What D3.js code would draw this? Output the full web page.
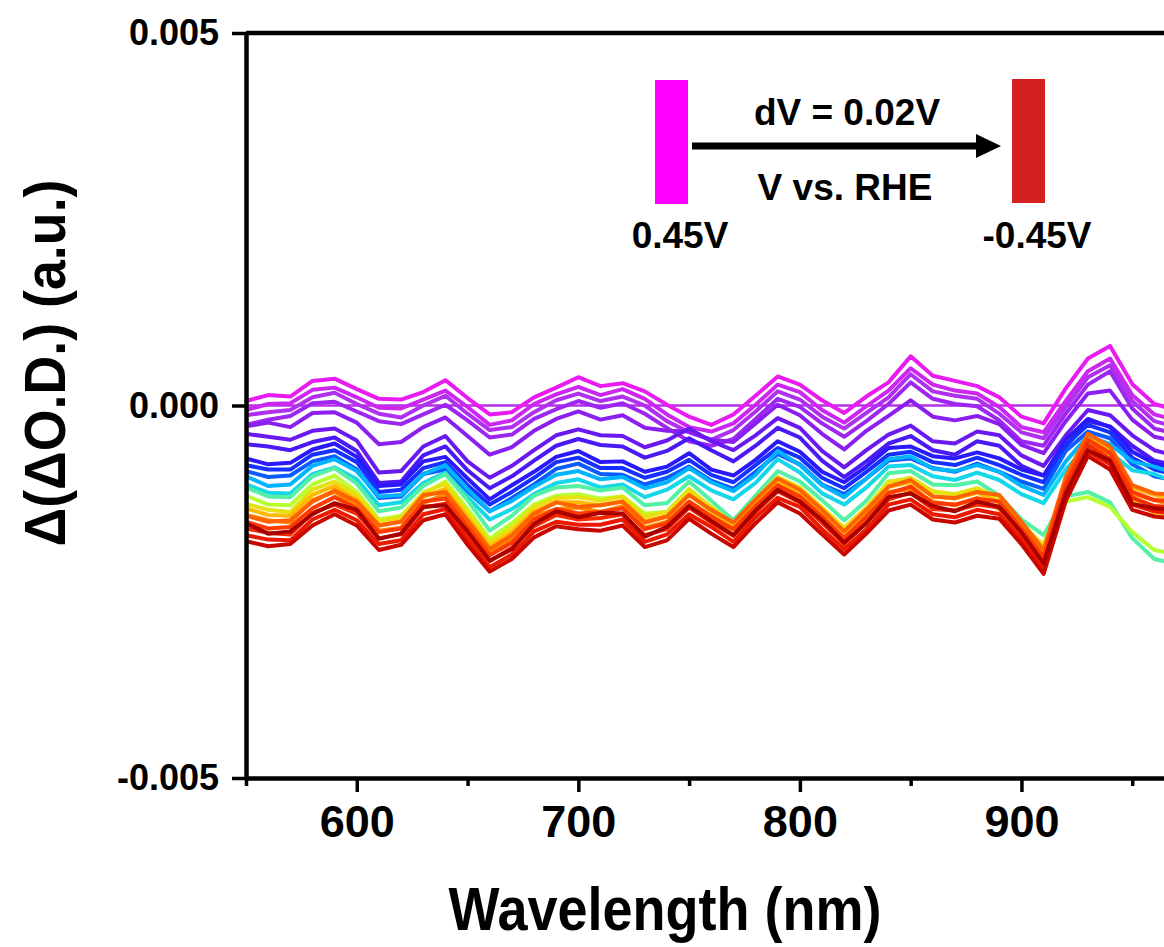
<!DOCTYPE html>
<html lang="en">
<head>
	<meta charset="UTF-8">
	<title>Potential-dependent spectra</title>
	<style>
		body{margin:0;background:#fff;}
		svg{display:block;font-family:"Liberation Sans",Arial,sans-serif;font-weight:bold;}
		.axis path,.axis line{stroke:#000;}
		.axis text{fill:#000;font-weight:bold;}
		.spec{fill:none;stroke-linejoin:round;}
	</style>
</head>
<body>
<svg id="chart" width="1164" height="947"></svg>
<script src="https://d3js.org/d3.v7.min.js"></script>
<script>
	// wavelength grid (nm)
	var wavelengths = [550,560,570,580,590,600,610,620,630,640,650,660,670,680,690,700,710,720,730,740,750,760,770,780,790,800,810,820,830,840,850,860,870,880,890,900,910,920,930,940,950,960,970];

	// applied potentials (V vs. RHE), one spectrum each
	var potentials = [0.45,0.41,0.37,0.33,0.29,0.25,0.21,0.17,0.13,0.09,0.05,0.01,-0.03,-0.07,-0.11,-0.15,-0.19,-0.23,-0.27,-0.31,-0.35,-0.39,-0.43,-0.45];

	// spectra in units of 1e-4 (a.u.)
	var s_p045 = [0,0,0,0,0,0,0,0,0,0,0,0,0,0,0,0,0,0,0,0,0,0,0,0,0,0,0,0,0,0,0,0,0,0,0,0,0,0,0,0,0,0,0];
	var s_p041 = [0.6,1.4,1.2,3.3,3.6,2.2,0.9,0.8,1.8,3.4,1.0,-1.2,-0.9,1.1,2.4,3.8,2.6,3.0,1.9,0.1,-1.5,-2.6,-1.2,1.3,3.9,2.8,0.7,-1.0,1.2,3.1,6.6,4.0,3.3,2.6,1.1,-1.5,-2.4,2.3,6.3,8.0,2.9,0.2,-0.6];
	var s_p037 = [-0.6,0.2,0.3,2.1,2.4,1.1,-0.3,-0.4,0.8,2.0,-0.2,-2.6,-2.0,0.2,1.5,2.5,1.4,2.2,0.9,-1.2,-2.9,-3.5,-2.4,0.1,2.8,1.8,-0.6,-2.3,-0.1,2.0,5.0,2.8,2.0,1.6,-0.2,-2.9,-3.6,0.6,4.6,6.3,1.4,-1.2,-2.0];
	var s_p033 = [-1.3,-0.9,-0.6,1.1,1.7,0.2,-1.1,-1.6,0.0,1.3,-1.1,-3.3,-2.9,-0.9,0.7,1.6,0.6,1.2,0.0,-2.1,-3.6,-4.6,-3.3,-0.8,1.9,0.8,-1.5,-3.1,-1.0,1.1,4.2,1.9,1.3,0.9,-1.1,-3.6,-4.4,-0.2,3.8,5.4,0.6,-2.1,-2.9];
	var s_p029 = [-2.6,-1.9,-1.4,0.3,0.5,-0.8,-2.1,-2.5,-1.2,0.1,-2.0,-4.3,-3.9,-1.8,-0.5,0.6,-0.3,0.3,-1.1,-3.0,-4.8,-5.4,-4.5,-1.8,0.9,-0.2,-2.4,-4.2,-2.1,0.2,3.1,0.9,0.2,-0.1,-2.0,-4.8,-5.4,-1.1,2.8,4.6,-0.4,-3.1,-3.8];
	var s_p025 = [-2.8,-2.3,-2.9,-1.0,-0.9,-2.3,-5.2,-4.9,-2.9,-1.6,-4.1,-6.6,-5.6,-3.4,-1.8,-0.8,-1.9,-1.3,-3.0,-3.4,-3.5,-4.6,-4.9,-2.4,0.1,-1.3,-3.8,-5.9,-3.4,-1.4,0.7,-1.5,-2.0,-1.4,-2.5,-5.3,-6.4,-2.1,1.6,2.0,-1.9,-4.2,-4.8];
	var s_p021 = [-3.8,-4.2,-4.6,-3.4,-3.1,-4.7,-9.0,-8.8,-5.5,-4.1,-7.5,-9.7,-8.1,-6.0,-4.0,-3.2,-4.0,-4.1,-5.6,-4.7,-3.1,-4.8,-6.0,-4.0,-1.7,-3.0,-6.1,-8.3,-6.0,-3.9,-2.7,-4.8,-5.1,-3.5,-4.0,-6.7,-8.1,-4.0,-0.6,-1.3,-4.0,-6.0,-6.8];
	var s_p017 = [-5.2,-5.5,-6.0,-4.9,-4.3,-6.1,-10.4,-10.2,-6.7,-5.5,-8.7,-11.1,-9.5,-7.4,-5.4,-4.5,-5.3,-5.5,-7.0,-6.1,-4.4,-6.0,-7.5,-5.4,-3.0,-4.3,-7.4,-9.6,-7.5,-5.1,-4.1,-6.0,-6.6,-4.8,-5.4,-8.1,-9.4,-5.5,-2.1,-2.8,-5.4,-7.4,-8.1];
	var s_p013 = [-7.1,-7.9,-7.7,-5.9,-5.1,-6.9,-10.8,-10.6,-7.5,-6.9,-9.8,-12.6,-10.7,-8.9,-6.9,-6.1,-7.6,-7.5,-8.9,-8.2,-6.4,-8.6,-9.4,-7.3,-4.8,-6.2,-8.9,-10.3,-8.2,-5.7,-5.5,-6.8,-7.1,-6.3,-7.1,-8.6,-9.4,-4.6,-1.8,-2.9,-6.2,-7.8,-8.5];
	var s_p009 = [-8.0,-8.6,-8.6,-6.6,-6.0,-7.6,-11.6,-11.3,-8.4,-7.6,-10.7,-13.3,-11.6,-9.7,-7.6,-7.0,-8.4,-8.4,-9.7,-8.9,-7.3,-9.3,-10.3,-8.0,-5.7,-7.0,-9.7,-11.1,-8.9,-6.6,-6.2,-7.6,-8.0,-7.0,-8.0,-9.3,-10.3,-5.3,-2.6,-3.6,-7.0,-8.6,-9.3];
	var s_p005 = [-8.8,-9.6,-9.4,-7.5,-6.8,-8.6,-12.4,-12.2,-9.2,-8.6,-11.5,-14.2,-12.4,-10.6,-8.5,-7.8,-9.2,-9.3,-10.6,-9.7,-8.2,-10.1,-11.2,-8.9,-6.5,-7.9,-10.6,-11.9,-9.8,-7.4,-7.1,-8.4,-8.9,-7.8,-8.9,-10.2,-11.2,-6.1,-3.5,-4.4,-7.9,-9.5,-10.1];
	var s_p001 = [-9.5,-10.8,-10.6,-8.1,-7.2,-8.8,-12.2,-12.0,-9.2,-8.0,-11.2,-14.2,-12.8,-10.9,-9.3,-8.8,-9.9,-9.6,-11.1,-10.3,-8.4,-10.3,-11.5,-9.3,-6.1,-8.0,-10.7,-12.3,-9.8,-7.2,-6.8,-8.5,-8.8,-8.0,-8.9,-10.8,-12.0,-7.5,-4.1,-5.2,-7.5,-8.2,-9.2];
	var s_m003 = [-10.6,-11.7,-11.8,-9.2,-8.3,-9.9,-13.4,-13.0,-10.4,-9.0,-12.3,-15.3,-13.9,-11.9,-10.4,-9.9,-11.0,-10.6,-12.3,-11.3,-9.5,-11.4,-12.6,-10.4,-7.2,-9.0,-11.8,-13.3,-11.0,-8.2,-8.0,-9.5,-10.0,-9.0,-10.0,-11.9,-13.1,-8.6,-5.3,-6.3,-8.7,-9.2,-10.4];
	var s_m007 = [-11.0,-12.2,-12.3,-9.5,-8.4,-10.5,-14.2,-13.7,-10.8,-9.2,-12.7,-16.8,-14.8,-12.1,-11.0,-10.8,-11.4,-11.0,-13.4,-13.1,-10.2,-12.8,-15.4,-12.1,-8.8,-10.2,-12.7,-15.4,-12.8,-9.1,-8.8,-10.6,-10.7,-10.2,-12.1,-15.3,-17.4,-12.2,-11.6,-13.0,-17.8,-20.6,-21.3];
	var s_m011 = [-12.1,-13.3,-13.4,-10.6,-9.4,-11.6,-15.3,-14.8,-11.9,-10.2,-13.9,-17.9,-15.8,-13.3,-12.1,-11.9,-12.5,-12.2,-14.5,-14.3,-11.2,-13.8,-16.5,-13.3,-9.8,-11.3,-13.8,-16.6,-13.8,-10.2,-9.9,-11.6,-11.9,-11.2,-13.2,-16.5,-18.6,-12.9,-12.3,-13.6,-17.0,-19.4,-20.0];
	var s_m015 = [-13.2,-14.0,-14.3,-11.3,-10.2,-12.0,-15.5,-15.0,-11.7,-10.5,-14.4,-18.3,-16.4,-13.6,-12.4,-12.3,-12.8,-12.2,-14.9,-14.3,-11.3,-13.6,-15.9,-12.6,-9.6,-11.0,-13.7,-16.4,-13.7,-10.3,-9.7,-11.5,-11.9,-11.1,-12.4,-15.8,-18.8,-10.9,-6.1,-7.2,-12.8,-14.4,-15.0];
	var s_m019 = [-13.8,-14.7,-14.8,-12.0,-10.8,-12.6,-16.1,-15.5,-12.3,-11.2,-15.0,-18.9,-17.0,-14.2,-13.0,-13.0,-13.4,-12.8,-15.5,-14.9,-12.0,-14.2,-16.5,-13.2,-10.2,-11.6,-14.3,-17.0,-14.3,-10.9,-10.3,-12.2,-12.5,-11.7,-13.0,-16.4,-19.4,-10.0,-4.5,-5.8,-11.0,-12.0,-12.6];
	var s_m023 = [-14.7,-15.4,-15.7,-12.7,-11.6,-13.5,-16.8,-16.4,-13.1,-11.9,-15.9,-19.6,-17.9,-14.9,-13.9,-13.7,-14.3,-13.5,-16.4,-15.6,-12.9,-14.9,-17.4,-13.9,-11.1,-12.3,-15.2,-17.7,-15.2,-11.6,-11.2,-12.9,-13.4,-12.4,-13.9,-17.1,-20.3,-10.8,-5.4,-6.5,-11.9,-12.7,-13.5];
	var s_m027 = [-14.8,-15.6,-15.4,-12.9,-11.4,-12.9,-16.1,-15.6,-12.0,-11.6,-15.4,-19.3,-17.4,-14.5,-13.0,-13.6,-13.4,-12.9,-15.7,-14.9,-12.0,-14.0,-15.7,-12.6,-9.8,-11.3,-14.0,-16.9,-14.0,-10.9,-10.0,-12.2,-12.4,-11.6,-12.0,-15.6,-19.4,-9.6,-3.8,-5.5,-10.7,-11.8,-12.0];
	var s_m031 = [-15.6,-16.5,-16.3,-13.8,-12.3,-13.8,-17.0,-16.5,-12.9,-12.5,-16.3,-20.1,-18.4,-15.3,-13.9,-14.5,-14.3,-13.8,-16.6,-15.8,-12.9,-14.9,-16.6,-13.5,-10.7,-12.2,-14.9,-17.8,-14.9,-11.8,-10.9,-13.1,-13.3,-12.5,-12.9,-16.5,-20.3,-10.5,-4.6,-6.4,-11.6,-12.7,-12.9];
	var s_m035 = [-16.5,-17.1,-17.3,-14.4,-13.3,-14.5,-17.8,-17.3,-13.7,-13.2,-17.2,-20.9,-19.1,-16.2,-14.7,-15.3,-15.1,-14.6,-17.4,-16.6,-13.7,-15.7,-17.5,-14.3,-11.5,-13.0,-15.7,-18.6,-15.7,-12.6,-11.7,-13.9,-14.1,-13.3,-13.7,-17.3,-21.1,-11.3,-5.3,-7.2,-12.4,-13.5,-13.7];
	var s_m039 = [-17.4,-18.0,-18.1,-15.3,-14.0,-15.4,-18.6,-18.1,-14.6,-13.9,-18.0,-21.7,-20.0,-16.9,-15.6,-16.0,-16.0,-15.3,-18.3,-17.3,-14.6,-16.3,-18.3,-15.0,-12.4,-13.6,-16.6,-19.3,-16.6,-13.3,-12.6,-14.6,-15.0,-14.0,-14.6,-18.0,-21.9,-12.0,-6.2,-7.9,-13.3,-14.2,-14.6];
	var s_m043 = [-18.2,-18.9,-18.6,-16.1,-14.6,-16.1,-19.4,-18.7,-15.4,-14.6,-18.7,-22.3,-20.6,-17.7,-16.2,-16.6,-16.8,-16.1,-19.0,-18.1,-15.2,-17.2,-19.0,-15.8,-13.0,-14.5,-17.3,-20.0,-17.2,-14.1,-13.3,-15.3,-15.7,-14.8,-15.2,-18.6,-22.6,-12.8,-6.8,-8.6,-14.0,-14.9,-15.2];
	var s_m045 = [-15.8,-17.2,-16.9,-14.6,-13.1,-14.0,-17.9,-17.2,-13.6,-13.4,-16.9,-20.8,-19.3,-15.9,-14.2,-15.0,-14.4,-14.5,-17.6,-16.3,-13.5,-15.5,-17.4,-14.1,-11.3,-12.9,-15.4,-18.4,-15.8,-12.3,-11.8,-13.5,-14.2,-12.9,-13.6,-17.0,-21.2,-11.8,-6.0,-7.4,-13.2,-13.8,-14.0];

	var spectra = [s_p045,s_p041,s_p037,s_p033,s_p029,s_p025,s_p021,s_p017,s_p013,s_p009,s_p005,s_p001,
		s_m003,s_m007,s_m011,s_m015,s_m019,s_m023,s_m027,s_m031,s_m035,s_m039,s_m043,s_m045];

	var xMajor = [600,700,800,900];
	var xMinor = [550,650,750,850,950];
	var yTicks = [-0.005,0,0.005];

	var svg = d3.select('#chart');

	var x = d3.scaleLinear().domain([550,1000]).range([246,1243]);
	var y = d3.scaleLinear().domain([-0.005,0.005]).range([778,33]);

	// rainbow colour map, 0.45 V magenta -> -0.45 V dark red
	var color = d3.scaleLinear()
		.domain([0.45,0.41,0.33,0.25,0.19,0.11,0.05,0.01,-0.05,-0.11,-0.17,-0.23,-0.31,-0.41,-0.45])
		.range(['#b530e6','#e81cf0','#b030f0','#8a1ff0','#5a18f0','#1a1aff','#0a5cff','#00b4ff','#20e8e0','#b8ff30','#ffd200','#ff8a00','#ff3a00','#e81000','#a80000'])
		.interpolate(d3.interpolateRgb);

	svg.append('clipPath').attr('id','plotclip')
		.append('rect').attr('x',246).attr('y',33).attr('width',1000).attr('height',745);

	var line = d3.line()
		.x(function(d,i){ return x(wavelengths[i]); })
		.y(function(d){ return y(d*1e-4); });

	svg.append('g').attr('clip-path','url(#plotclip)')
		.selectAll('path')
		.data(spectra)
		.enter()
			.append('path')
			.attr('class','spec')
			.attr('d',line)
			.attr('stroke',function(d,i){ return color(potentials[i]); })
			.attr('stroke-width',function(d,i){ return i===0 ? 2.5 : 4; });

	// plain hyphen minus like the original figure
	var yFmt = function(d){ return d3.format('.3f')(d).replace('\u2212','-'); };

	// axes
	var xAxis = svg.append('g').attr('class','axis')
		.attr('transform','translate(0,778)')
		.call(d3.axisBottom(x).tickValues(xMajor).tickFormat(d3.format('d')).tickSize(14).tickSizeOuter(0).tickPadding(13));
	xAxis.selectAll('text').style('font-size','45px');
	xAxis.selectAll('line').attr('stroke-width',3.5);
	xAxis.select('.domain').attr('stroke-width',4.5);

	var xMinorAxis = svg.append('g').attr('class','axis')
		.attr('transform','translate(0,778)')
		.call(d3.axisBottom(x).tickValues(xMinor).tickFormat('').tickSize(8).tickSizeOuter(0));
	xMinorAxis.selectAll('line').attr('stroke-width',3.5);
	xMinorAxis.select('.domain').remove();

	var yAxis = svg.append('g').attr('class','axis')
		.attr('transform','translate(246,0)')
		.call(d3.axisLeft(y).tickValues(yTicks).tickFormat(yFmt).tickSize(14).tickSizeOuter(0).tickPadding(13));
	yAxis.selectAll('text').style('font-size','36px');
	yAxis.selectAll('line').attr('stroke-width',3.5);
	yAxis.select('.domain').attr('stroke-width',4.5);

	// top frame
	svg.append('line')
		.attr('x1',246).attr('x2',x(1000))
		.attr('y1',33).attr('y2',33)
		.attr('stroke','#000').attr('stroke-width',4.5);
	svg.append('line')
		.attr('x1',x(1000)).attr('x2',x(1000))
		.attr('y1',33).attr('y2',778)
		.attr('stroke','#000').attr('stroke-width',4.5);

	// axis titles
	svg.append('text')
		.attr('x',665).attr('y',930)
		.attr('text-anchor','middle')
		.attr('textLength',433).attr('lengthAdjust','spacingAndGlyphs')
		.style('font-size','62px')
		.text('Wavelength (nm)');

	svg.append('text')
		.attr('transform','translate(65,363) rotate(-90)')
		.attr('text-anchor','middle')
		.attr('textLength',367).attr('lengthAdjust','spacingAndGlyphs')
		.style('font-size','58px')
		.text('\u0394(\u0394O.D.) (a.u.)');

	// potential sweep annotation
	var note = svg.append('g');
	note.append('rect').attr('x',655).attr('y',80).attr('width',33).attr('height',124).attr('fill','#ff00ff');
	note.append('rect').attr('x',1012).attr('y',79).attr('width',33).attr('height',124).attr('fill','#d42020');
	note.append('line')
		.attr('x1',692).attr('x2',982)
		.attr('y1',146).attr('y2',146)
		.attr('stroke','#000').attr('stroke-width',7);
	note.append('path')
		.attr('d','M976,134 L1001,146 L976,158 Z')
		.attr('fill','#000');
	note.append('text').attr('x',847).attr('y',125).attr('text-anchor','middle').style('font-size','37px').text('dV = 0.02V');
	note.append('text').attr('x',845).attr('y',200).attr('text-anchor','middle').style('font-size','37px').text('V vs. RHE');
	note.append('text').attr('x',680).attr('y',248).attr('text-anchor','middle').style('font-size','37px').text('0.45V');
	note.append('text').attr('x',1037).attr('y',248).attr('text-anchor','middle').style('font-size','37px').text('-0.45V');
</script>
</body>
</html>
